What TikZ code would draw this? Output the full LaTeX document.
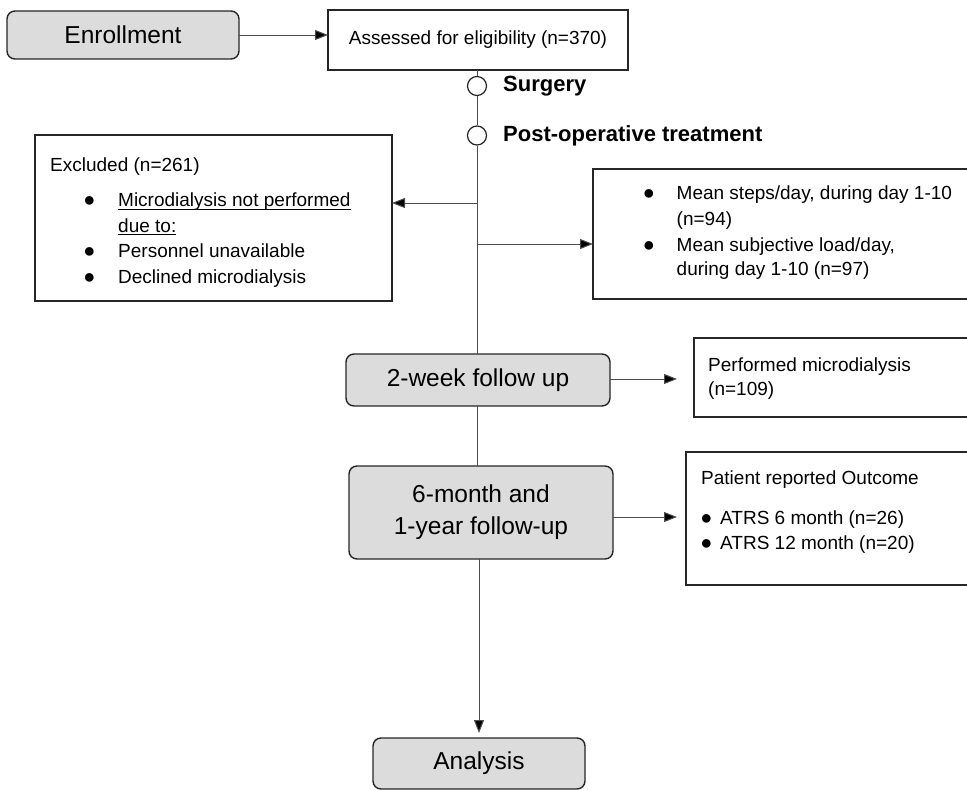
\documentclass[tikz,border=0pt]{standalone}
\usepackage{fontspec}
\setmainfont{Liberation Sans}
\usetikzlibrary{arrows.meta}
\definecolor{boxgray}{RGB}{220,220,220}
\newcommand\myuline[1]{\leavevmode\setbox0=\hbox{#1}\rlap{\vrule height -2pt depth 3.2pt width \wd0}\box0}
\begin{document}
\begin{tikzpicture}[x=1pt,y=-1pt,
  box/.style={draw=black!85, line width=1.4pt, inner sep=0pt, outer sep=0pt},
  gbox/.style={box, fill=boxgray, rounded corners=8pt, font=\fontsize{24.5}{32}\selectfont, align=center},
  conn/.style={draw=black!70, line width=1pt},
  arr/.style={conn, -{Triangle[length=13pt,width=10pt,fill=black]}},
  txt/.style={anchor=base west, inner sep=0pt, font=\fontsize{19}{23}\selectfont},
  bul/.style={anchor=base, inner sep=0pt, font=\fontsize{20}{23}\selectfont},
  lbl/.style={anchor=base west, inner sep=0pt, font=\fontsize{22}{26}\selectfont\bfseries},
  ring/.style={circle, draw=black!85, line width=1.2pt, fill=white, minimum size=19pt, inner sep=0pt}
]
\useasboundingbox (0,0) rectangle (967,790);
\clip (0,0) rectangle (967,790);

% boxes
\node[gbox, minimum width=232pt, minimum height=48pt] (enr) at (123,35) {Enrollment};
\node[box, minimum width=300pt, minimum height=60pt, font=\fontsize{19}{23}\selectfont] (ass) at (478,40) {Assessed for eligibility (n=370)};
\node[ring] (surg) at (477,86) {};
\node[ring] (post) at (477,135.5) {};
\node[lbl] (surgl) at (503,91) {Surgery};
\node[lbl] (postl) at (503,141) {Post-operative treatment};

\node[box, minimum width=357pt, minimum height=166pt] (excl) at (213.5,218) {};
\node[txt] (e0) at (50,171) {Excluded (n=261)};
\node[bul] (eb1) at (89.5,206.7) {●};
\node[txt] (e1) at (118,206.7) {\myuline{Microdialysis not performed}};
\node[txt] (e2) at (118,232) {\myuline{due to:}};
\node[bul] (eb3) at (89.5,257.5) {●};
\node[txt] (e3) at (118,257.5) {Personnel unavailable};
\node[bul] (eb4) at (89.5,283) {●};
\node[txt] (e4) at (118,283) {Declined microdialysis};

\node[box, minimum width=400pt, minimum height=130pt, anchor=north west] (rbox) at (593,169) {};
\node[bul] (rb1) at (649,199) {●};
\node[txt] (r1) at (676.5,199) {Mean steps/day, during day 1-10};
\node[txt] (r2) at (676.5,225) {(n=94)};
\node[bul] (rb3) at (649,251) {●};
\node[txt] (r3) at (676.5,251) {Mean subjective load/day,};
\node[txt] (r4) at (676.5,275) {during day 1-10 (n=97)};

\node[gbox, minimum width=264pt, minimum height=52pt] (wk2) at (478,380) {2-week follow up};
\node[box, minimum width=300pt, minimum height=79pt, anchor=north west] (perf) at (694,338) {};
\node[txt] (p1) at (708,371) {Performed microdialysis};
\node[txt] (p2) at (708,395) {(n=109)};

\node[gbox, minimum width=264pt, minimum height=93pt] (m6) at (481,512.5) {6-month and\\1-year follow-up};
\node[box, minimum width=300pt, minimum height=133pt, anchor=north west] (pro) at (686,452) {};
\node[txt] (q0) at (701,484) {Patient reported Outcome};
\node[bul] (qb1) at (706.5,524) {●};
\node[txt] (q1) at (720,524) {ATRS 6 month (n=26)};
\node[bul] (qb2) at (706.5,549.5) {●};
\node[txt] (q2) at (720,549.5) {ATRS 12 month (n=20)};

\node[gbox, minimum width=212pt, minimum height=51pt] (ana) at (479,763.5) {Analysis};

% connectors
\draw[arr] (enr.east) -- (ass.west |- enr.east);
\draw[conn] (ass.south -| surg) -- (surg.north);
\draw[conn] (surg.south) -- (post.north);
\draw[conn] (post.south) -- (wk2.north -| post);
\coordinate (bx) at (477,203);
\coordinate (by) at (477,244);
\draw[arr] (bx) -- (excl.east |- bx);
\draw[arr] (by) -- (rbox.west |- by);
\draw[conn] (wk2.south -| post) -- (m6.north -| post);
\coordinate (a2) at (610,379);
\draw[arr, shorten >=17pt] (wk2.east |- a2) -- (perf.west |- a2);
\coordinate (a6) at (613,517);
\draw[arr, shorten >=9pt] (m6.east |- a6) -- (pro.west |- a6);
\draw[arr, shorten >=5pt] (m6.south -| ana) -- (ana.north);
\end{tikzpicture}
\end{document}
